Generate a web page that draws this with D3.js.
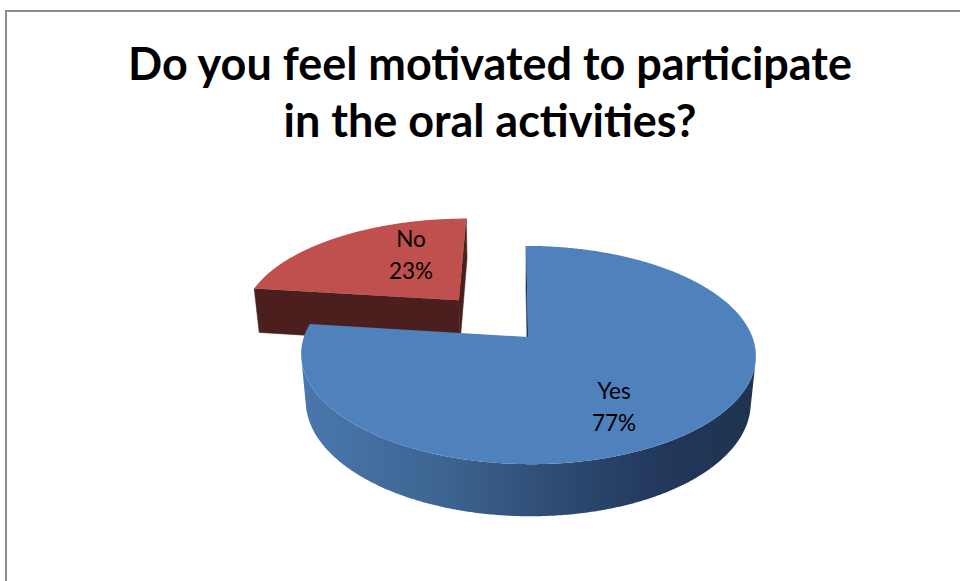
<!DOCTYPE html>
<html><head><meta charset="utf-8">
<script src="https://cdn.jsdelivr.net/npm/d3@7/dist/d3.min.js"></script>
<style>body{margin:0;background:#fff} svg{display:block}</style>
</head><body>
<svg id="c" width="960" height="581"></svg>
<script>
// ---- data ----
const categories = ["Yes", "No"];
const values = [77, 23];
const titleLines = ["Do you feel motivated to participate", "in the oral activities?"];

// ---- style / geometry config ----
const cam = {px: 514, py: 337, f: 1196, d: 5.334, tilt: 28.26 * Math.PI / 180, X0: 0.063, h: 0.2396};
const sliceStyle = {
  Yes: {top: "#4f81bd", face: "#1f3a5c", explode: 0,
        wall: [["0", "#4a77ac"], ["0.3", "#3e6593"], ["0.55", "#2f4d74"], ["0.8", "#22375a"], ["1", "#1f3350"]],
        label: {da: 11.7, r: 0.685}},
  No: {top: "#c0504d", face: "#4c1f1f", explode: 0.49,
       wall: [["0", "#7a2e2c"], ["1", "#4c1f1f"]],
       label: {da: 14.2, r: 0.58}}
};
const font = "Lato, 'Open Sans', 'DejaVu Sans', sans-serif";

const svg = d3.select("#c");
svg.append("rect").attr("width", 960).attr("height", 581).attr("fill", "#fff");
svg.append("rect").attr("x", 6).attr("y", 11).attr("width", 1200).attr("height", 1200)
  .attr("fill", "none").attr("stroke", "#8c8c8c").attr("stroke-width", 2);

const s = Math.sin(cam.tilt), c = Math.cos(cam.tilt);
function proj(X, Y, Z) {
  const yc = Y * c + Z * s, dep = Z * c - Y * s, k = cam.f / (cam.d + dep);
  return [cam.px + X * k, cam.py - yc * k];
}
const C = [0, cam.d * s, -cam.d * c];
const line = d3.line();
const closed = pts => line(pts) + "Z";

const total = d3.sum(values);
const pct = d3.format(".0%");
const pie = d3.pie().sort(null).value(d => d.value).startAngle(0).endAngle(2 * Math.PI);
const arcs = pie(categories.map((k, i) => ({name: k, value: values[i]})));

const defs = svg.append("defs");
const g = svg.append("g");

const slices = arcs.map(a => {
  const st = sliceStyle[a.data.name];
  const mid = (a.startAngle + a.endAngle) / 2;
  const ax = cam.X0 + st.explode * Math.sin(mid), az = st.explode * Math.cos(mid);
  return {a, st, mid, ax, az};
}).sort((p, q) => q.az - p.az);

slices.forEach(({a, st, mid, ax, az}, idx) => {
  const h = cam.h;
  const rim = (phi, Y) => proj(ax + Math.sin(phi), Y, az + Math.cos(phi));
  const apex = Y => proj(ax, Y, az);
  const N = Math.max(2, Math.ceil((a.endAngle - a.startAngle) / (Math.PI / 360)));
  const phis = d3.range(N + 1).map(i => a.startAngle + (a.endAngle - a.startAngle) * i / N);

  // gradient for outer wall
  const xs = phis.map(p => rim(p, 0)[0]);
  const gid = "wall" + idx;
  const lg = defs.append("linearGradient").attr("id", gid).attr("gradientUnits", "userSpaceOnUse")
    .attr("x1", d3.min(xs)).attr("x2", d3.max(xs)).attr("y1", 0).attr("y2", 0);
  st.wall.forEach(([o, col]) => lg.append("stop").attr("offset", o).attr("stop-color", col));

  // outer wall visible runs
  const vis = phi => {
    const nx = Math.sin(phi), nz = Math.cos(phi);
    const P = [ax + nx, -h / 2, az + nz];
    return nx * (C[0] - P[0]) + nz * (C[2] - P[2]) > 0;
  };
  let runs = [], cur = null;
  phis.forEach(p => {
    if (vis(p)) { if (!cur) { cur = []; runs.push(cur); } cur.push(p); }
    else cur = null;
  });
  runs.forEach(r => {
    if (r.length < 2) return;
    const pts = r.map(p => rim(p, 0)).concat(r.slice().reverse().map(p => rim(p, -h)));
    g.append("path").attr("d", closed(pts)).attr("fill", `url(#${gid})`);
  });

  // radial faces
  const faces = [
    {phi: a.startAngle, n: [-Math.cos(a.startAngle), Math.sin(a.startAngle)]},
    {phi: a.endAngle, n: [Math.cos(a.endAngle), -Math.sin(a.endAngle)]}
  ];
  faces.forEach(fc => {
    const dot = fc.n[0] * (C[0] - ax) + fc.n[1] * (C[2] - az);
    if (dot <= 0) return;
    const pts = [apex(0), rim(fc.phi, 0), rim(fc.phi, -h), apex(-h)];
    g.append("path").attr("d", closed(pts)).attr("fill", st.face)
      .attr("stroke", st.face).attr("stroke-width", 0.5);
  });

  // top face
  const topPts = [apex(0)].concat(phis.map(p => rim(p, 0)));
  g.append("path").attr("d", closed(topPts)).attr("fill", st.top);

  // labels
  const la = mid + st.label.da * Math.PI / 180, r = st.label.r;
  const [lx, ly] = proj(ax + r * Math.sin(la), 0, az + r * Math.cos(la));
  const t = g.append("text").attr("text-anchor", "middle").attr("font-family", font)
    .attr("font-size", 22.5).attr("fill", "#000");
  t.append("tspan").attr("x", lx).attr("y", ly - 8).text(a.data.name);
  t.append("tspan").attr("x", lx).attr("y", ly + 23.5).text(pct(a.data.value / total));
});

// title (Calibri-like condensed: scale horizontally to fit measured width)
const tt = svg.append("g").attr("font-family", font).attr("font-weight", "bold").attr("fill", "#000")
  .attr("text-anchor", "middle");
const l1 = tt.append("text").attr("x", 0).attr("y", 80).attr("font-size", 45).text(titleLines[0]);
const w = l1.node().getComputedTextLength();
const sx = 724 / w;
tt.append("text").attr("x", 0).attr("y", 137).attr("font-size", 45).text(titleLines[1]);
tt.attr("transform", `translate(490,0) scale(${sx},1)`);
</script>
</body></html>
